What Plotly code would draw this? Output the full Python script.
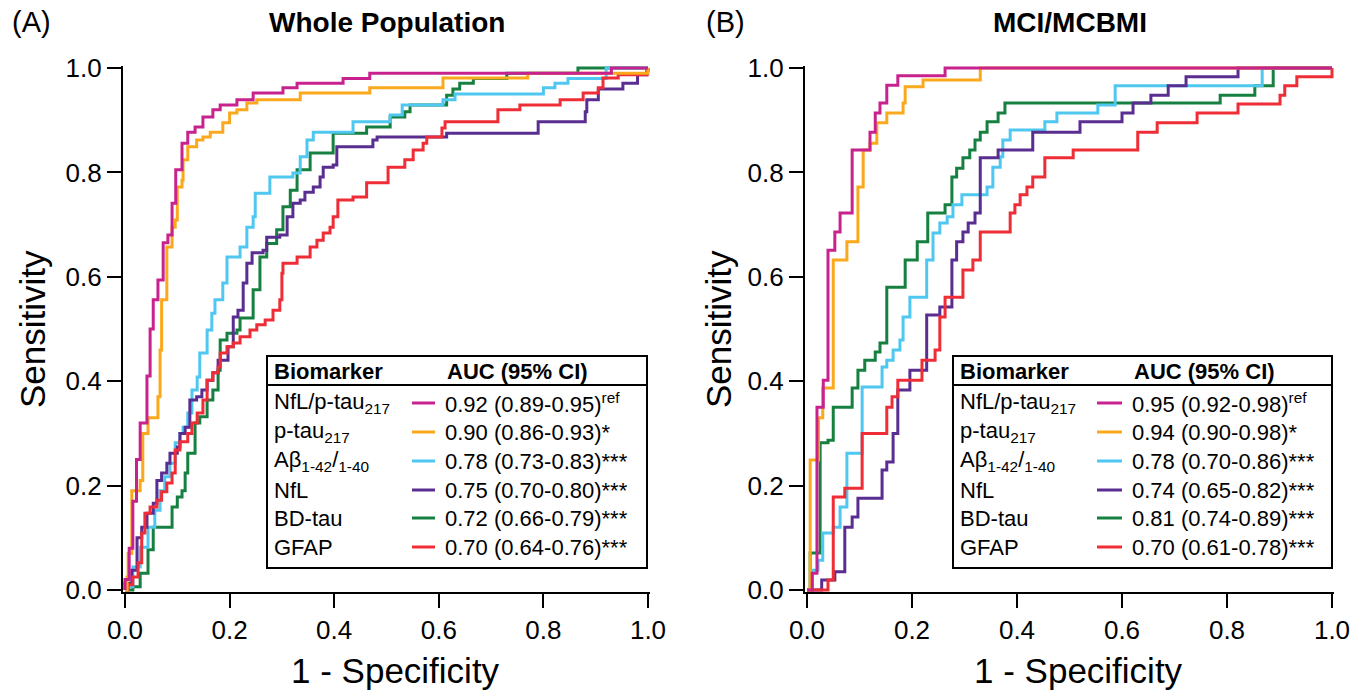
import plotly.graph_objects as go

W, H = 1367, 698
FONT = "Liberation Sans, Arial, Helvetica, sans-serif"

# ---------------- data ----------------
biomarkers = ["NfL/p-tau217", "p-tau217", "Aβ1-42/1-40", "NfL", "BD-tau", "GFAP"]
legend_labels = ["NfL/p-tau<sub>217</sub>", "p-tau<sub>217</sub>", "Aβ<sub>1-42</sub>/<sub>1-40</sub>",
                 "NfL", "BD-tau", "GFAP"]
colors = ["#C8228E", "#FBA91C", "#4FC7F0", "#5A2D91", "#168040", "#EE2D37"]

auc_A = ["0.92 (0.89-0.95)<sup>ref</sup>", "0.90 (0.86-0.93)*", "0.78 (0.73-0.83)***",
         "0.75 (0.70-0.80)***", "0.72 (0.66-0.79)***", "0.70 (0.64-0.76)***"]
auc_B = ["0.95 (0.92-0.98)<sup>ref</sup>", "0.94 (0.90-0.98)*", "0.78 (0.70-0.86)***",
         "0.74 (0.65-0.82)***", "0.81 (0.74-0.89)***", "0.70 (0.61-0.78)***"]

tick_vals = [0.0, 0.2, 0.4, 0.6, 0.8, 1.0]
tick_text = ["0.0", "0.2", "0.4", "0.6", "0.8", "1.0"]

# Panel A: Whole Population (1 - specificity, sensitivity)
A_nflptau_x = [0, 0.0, 0.008, 0.015, 0.022, 0.029, 0.042, 0.048, 0.054, 0.063, 0.073, 0.082, 0.09, 0.097, 0.109, 0.12, 0.134, 0.149, 0.168, 0.182, 0.214, 0.245, 0.302, 0.329, 0.417, 0.468, 0.93, 1.0]
A_nflptau_y = [0, 0.02, 0.08, 0.17, 0.25, 0.32, 0.41, 0.50, 0.556, 0.594, 0.665, 0.68, 0.741, 0.805, 0.856, 0.877, 0.887, 0.906, 0.92, 0.929, 0.939, 0.952, 0.962, 0.971, 0.98, 0.99, 1.0, 1.0]

A_ptau_x = [0, 0.004, 0.006, 0.013, 0.029, 0.034, 0.044, 0.063, 0.067, 0.07, 0.08, 0.09, 0.096, 0.1, 0.109, 0.111, 0.12, 0.137, 0.149, 0.163, 0.187, 0.2, 0.214, 0.233, 0.252, 0.335, 0.468, 0.608, 0.77, 1.0]
A_ptau_y = [0, 0.025, 0.07, 0.19, 0.21, 0.30, 0.33, 0.37, 0.46, 0.556, 0.657, 0.695, 0.709, 0.772, 0.785, 0.824, 0.849, 0.862, 0.868, 0.877, 0.895, 0.914, 0.92, 0.933, 0.939, 0.952, 0.962, 0.981, 0.99, 1.0]

A_abeta_x = [0, 0.004, 0.015, 0.029, 0.044, 0.057, 0.067, 0.076, 0.086, 0.096, 0.105, 0.111, 0.12, 0.128, 0.138, 0.143, 0.157, 0.166, 0.172, 0.187, 0.195, 0.22, 0.233, 0.245, 0.249, 0.277, 0.321, 0.335, 0.348, 0.36, 0.436, 0.507, 0.53, 0.608, 0.631, 0.8, 0.822, 0.847, 0.92, 1.0]
A_abeta_y = [0, 0.006, 0.044, 0.082, 0.12, 0.153, 0.19, 0.217, 0.243, 0.282, 0.3, 0.312, 0.339, 0.383, 0.408, 0.454, 0.498, 0.53, 0.556, 0.588, 0.638, 0.657, 0.695, 0.715, 0.76, 0.791, 0.799, 0.83, 0.862, 0.877, 0.897, 0.91, 0.929, 0.939, 0.95, 0.962, 0.971, 0.98, 1.0, 1.0]

A_nfl_x = [0, 0.0, 0.013, 0.023, 0.032, 0.042, 0.054, 0.061, 0.07, 0.08, 0.086, 0.1, 0.105, 0.115, 0.124, 0.137, 0.147, 0.157, 0.168, 0.178, 0.197, 0.207, 0.216, 0.226, 0.233, 0.243, 0.264, 0.271, 0.296, 0.31, 0.321, 0.335, 0.344, 0.36, 0.373, 0.379, 0.398, 0.405, 0.474, 0.482, 0.615, 0.79, 0.88, 0.883, 0.905, 0.952, 0.98, 0.998, 1.0]
A_nfl_y = [0, 0.013, 0.038, 0.1, 0.12, 0.147, 0.166, 0.21, 0.224, 0.243, 0.262, 0.274, 0.3, 0.312, 0.364, 0.37, 0.383, 0.402, 0.416, 0.44, 0.466, 0.523, 0.536, 0.588, 0.626, 0.646, 0.651, 0.676, 0.68, 0.715, 0.741, 0.747, 0.762, 0.772, 0.791, 0.81, 0.814, 0.849, 0.862, 0.868, 0.875, 0.897, 0.916, 0.939, 0.96, 0.971, 0.987, 0.996, 1.0]

A_bdtau_x = [0, 0.015, 0.029, 0.044, 0.054, 0.09, 0.1, 0.109, 0.115, 0.12, 0.134, 0.143, 0.157, 0.168, 0.178, 0.182, 0.195, 0.214, 0.22, 0.245, 0.258, 0.271, 0.29, 0.302, 0.316, 0.329, 0.354, 0.398, 0.462, 0.507, 0.535, 0.545, 0.615, 0.627, 0.64, 0.666, 0.73, 0.866, 1.0]
A_bdtau_y = [0, 0.006, 0.032, 0.077, 0.12, 0.159, 0.178, 0.19, 0.224, 0.262, 0.32, 0.332, 0.364, 0.383, 0.421, 0.479, 0.492, 0.498, 0.521, 0.575, 0.638, 0.664, 0.69, 0.734, 0.766, 0.805, 0.837, 0.875, 0.887, 0.906, 0.916, 0.929, 0.948, 0.96, 0.971, 0.98, 0.99, 1.0, 1.0]

A_gfap_x = [0, 0.006, 0.015, 0.025, 0.032, 0.038, 0.048, 0.061, 0.07, 0.08, 0.09, 0.096, 0.105, 0.12, 0.128, 0.138, 0.149, 0.157, 0.168, 0.178, 0.182, 0.195, 0.207, 0.22, 0.239, 0.252, 0.268, 0.283, 0.296, 0.3, 0.302, 0.329, 0.354, 0.367, 0.379, 0.392, 0.398, 0.407, 0.436, 0.462, 0.503, 0.535, 0.551, 0.57, 0.577, 0.606, 0.612, 0.713, 0.755, 0.832, 0.876, 0.905, 0.914, 0.943, 0.998, 1.0]
A_gfap_y = [0, 0.01, 0.025, 0.052, 0.109, 0.147, 0.159, 0.172, 0.188, 0.205, 0.224, 0.268, 0.284, 0.3, 0.32, 0.339, 0.364, 0.402, 0.416, 0.427, 0.454, 0.466, 0.473, 0.485, 0.498, 0.508, 0.517, 0.536, 0.556, 0.607, 0.626, 0.638, 0.657, 0.67, 0.684, 0.695, 0.715, 0.747, 0.753, 0.78, 0.81, 0.824, 0.843, 0.856, 0.868, 0.885, 0.897, 0.92, 0.929, 0.939, 0.952, 0.962, 0.981, 0.987, 0.996, 1.0]

# Panel B: MCI/MCBMI
B_nflptau_x = [0, 0.01, 0.019, 0.031, 0.04, 0.053, 0.063, 0.086, 0.12, 0.13, 0.139, 0.152, 0.173, 0.263, 1.0]
B_nflptau_y = [0, 0.032, 0.35, 0.402, 0.651, 0.686, 0.722, 0.843, 0.877, 0.914, 0.933, 0.967, 0.985, 1.0, 1.0]

B_ptau_x = [0, 0.006, 0.022, 0.03, 0.05, 0.076, 0.097, 0.107, 0.12, 0.133, 0.152, 0.183, 0.187, 0.221, 0.33, 1.0]
B_ptau_y = [0, 0.249, 0.33, 0.387, 0.632, 0.667, 0.772, 0.843, 0.856, 0.895, 0.914, 0.933, 0.964, 0.977, 1.0, 1.0]

B_abeta_x = [0, 0.01, 0.021, 0.03, 0.05, 0.063, 0.076, 0.105, 0.143, 0.152, 0.164, 0.177, 0.183, 0.196, 0.228, 0.24, 0.253, 0.267, 0.278, 0.295, 0.343, 0.354, 0.368, 0.373, 0.387, 0.453, 0.476, 0.554, 0.587, 0.867, 1.0]
B_abeta_y = [0, 0.038, 0.057, 0.109, 0.12, 0.159, 0.262, 0.389, 0.427, 0.44, 0.46, 0.479, 0.523, 0.561, 0.632, 0.684, 0.703, 0.715, 0.738, 0.757, 0.772, 0.81, 0.83, 0.862, 0.881, 0.897, 0.914, 0.929, 0.966, 1.0, 1.0]

B_nfl_x = [0, 0.028, 0.053, 0.072, 0.086, 0.097, 0.143, 0.152, 0.164, 0.173, 0.196, 0.228, 0.253, 0.276, 0.285, 0.297, 0.307, 0.32, 0.33, 0.364, 0.43, 0.52, 0.6, 0.621, 0.655, 0.688, 0.722, 0.821, 1.0]
B_nfl_y = [0, 0.019, 0.035, 0.12, 0.14, 0.176, 0.23, 0.245, 0.3, 0.383, 0.421, 0.527, 0.542, 0.632, 0.667, 0.686, 0.703, 0.722, 0.828, 0.843, 0.877, 0.897, 0.914, 0.933, 0.948, 0.966, 0.983, 1.0, 1.0]

B_bdtau_x = [0, 0.006, 0.025, 0.04, 0.05, 0.086, 0.097, 0.11, 0.13, 0.139, 0.152, 0.187, 0.21, 0.23, 0.263, 0.276, 0.285, 0.297, 0.31, 0.32, 0.33, 0.343, 0.364, 0.377, 0.787, 0.853, 0.888, 1.0]
B_bdtau_y = [0, 0.071, 0.282, 0.287, 0.35, 0.387, 0.421, 0.44, 0.456, 0.473, 0.58, 0.632, 0.667, 0.722, 0.738, 0.791, 0.808, 0.828, 0.843, 0.862, 0.877, 0.897, 0.914, 0.933, 0.948, 0.966, 1.0, 1.0]

B_gfap_x = [0, 0.04, 0.05, 0.072, 0.105, 0.152, 0.162, 0.173, 0.219, 0.244, 0.253, 0.263, 0.297, 0.316, 0.33, 0.387, 0.396, 0.406, 0.419, 0.43, 0.453, 0.507, 0.63, 0.667, 0.743, 0.821, 0.901, 0.91, 0.933, 1.0]
B_gfap_y = [0, 0.019, 0.178, 0.195, 0.3, 0.35, 0.37, 0.402, 0.44, 0.46, 0.523, 0.561, 0.613, 0.632, 0.686, 0.722, 0.738, 0.757, 0.772, 0.791, 0.828, 0.843, 0.877, 0.895, 0.914, 0.931, 0.948, 0.966, 0.983, 1.0]

panel_A = [(A_nflptau_x, A_nflptau_y), (A_ptau_x, A_ptau_y), (A_abeta_x, A_abeta_y),
           (A_nfl_x, A_nfl_y), (A_bdtau_x, A_bdtau_y), (A_gfap_x, A_gfap_y)]
panel_B = [(B_nflptau_x, B_nflptau_y), (B_ptau_x, B_ptau_y), (B_abeta_x, B_abeta_y),
           (B_nfl_x, B_nfl_y), (B_bdtau_x, B_bdtau_y), (B_gfap_x, B_gfap_y)]

# ---------------- figure ----------------
fig = go.Figure()
draw_order = [4, 2, 3, 5, 1, 0]
for panel, (xa, ya) in ((panel_A, ("x", "y")), (panel_B, ("x2", "y2"))):
    for i in draw_order:
        xs, ys = panel[i]
        fig.add_trace(go.Scatter(x=xs, y=ys, mode="lines", line=dict(color=colors[i], width=3, shape="hv"),
                                 name=biomarkers[i], xaxis=xa, yaxis=ya, showlegend=False,
                                 hoverinfo="skip"))

PAD = 0.004


def dom(p0, p1, total, flip=False):
    span = p1 - p0
    a = p0 - PAD * span
    b = p1 + PAD * span
    if flip:
        return [1 - b / total, 1 - a / total]
    return [a / total, b / total]


axis_common = dict(range=[-PAD, 1 + PAD], tickvals=tick_vals, ticktext=tick_text, ticks="outside",
                   ticklen=14, tickwidth=2, tickcolor="black", showline=True, linewidth=2,
                   linecolor="black", showgrid=False, zeroline=False, fixedrange=True,
                   automargin=False,
                   tickfont=dict(family=FONT, size=26, color="black"))

fig.update_layout(
    template="none",
    width=W, height=H, margin=dict(l=0, r=0, t=0, b=0, pad=0, autoexpand=False),
    paper_bgcolor="white", plot_bgcolor="white",
    xaxis=dict(domain=dom(125, 648, W), anchor="y", **axis_common),
    yaxis=dict(domain=dom(68, 590, H, flip=True), anchor="x", **axis_common),
    xaxis2=dict(domain=dom(807, 1332, W), anchor="y2", **axis_common),
    yaxis2=dict(domain=dom(68, 590, H, flip=True), anchor="x2", **axis_common),
)


def px(x):
    return x / W


def py(y):
    return 1 - y / H


ann = []
shapes = []


def text(x, y, s, size, xanchor="left", bold=False, angle=0):
    ann.append(dict(x=px(x), y=py(y), xref="paper", yref="paper", text=(f"<b>{s}</b>" if bold else s),
                    showarrow=False, xanchor=xanchor, yanchor="middle", textangle=angle,
                    font=dict(family=FONT, size=size, color="black")))


# panel labels, titles and axis titles
text(10, 22, "(A)", 29)
text(704, 22, "(B)", 29)
text(387, 22, "Whole Population", 28, xanchor="center", bold=True)
text(1070, 22, "MCI/MCBMI", 28, xanchor="center", bold=True)
for cx, ax_cx in ((395, 32), (1078, 718)):
    text(cx, 670, "1 - Specificity", 35, xanchor="center")
    text(ax_cx, 329, "Sensitivity", 35, xanchor="center", angle=-90)

# legend tables
row_y = [403, 432, 461, 490, 518, 547]
for (bx0, bx1, lx0, lx1, vx, aucs) in ((267, 647, 412, 435, 443, auc_A),
                                       (953, 1332, 1097, 1122, 1130, auc_B)):
    shapes.append(dict(type="rect", xref="paper", yref="paper", x0=px(bx0), x1=px(bx1),
                       y0=py(568), y1=py(356), line=dict(color="black", width=2),
                       fillcolor="white", layer="above"))
    shapes.append(dict(type="line", xref="paper", yref="paper", x0=px(bx0), x1=px(bx1),
                       y0=py(385), y1=py(385), line=dict(color="black", width=2)))
    text(bx0 + 5, 371, "Biomarker", 22, bold=True)
    text(vx + 2, 371, "AUC (95% CI)", 22, bold=True)
    for i in range(6):
        text(bx0 + 5, row_y[i], legend_labels[i], 22)
        shapes.append(dict(type="line", xref="paper", yref="paper", x0=px(lx0), x1=px(lx1),
                           y0=py(row_y[i]), y1=py(row_y[i]), line=dict(color=colors[i], width=3)))
        text(vx, row_y[i], aucs[i], 22)

fig.update_layout(annotations=ann, shapes=shapes)
fig.write_html("out.html")
